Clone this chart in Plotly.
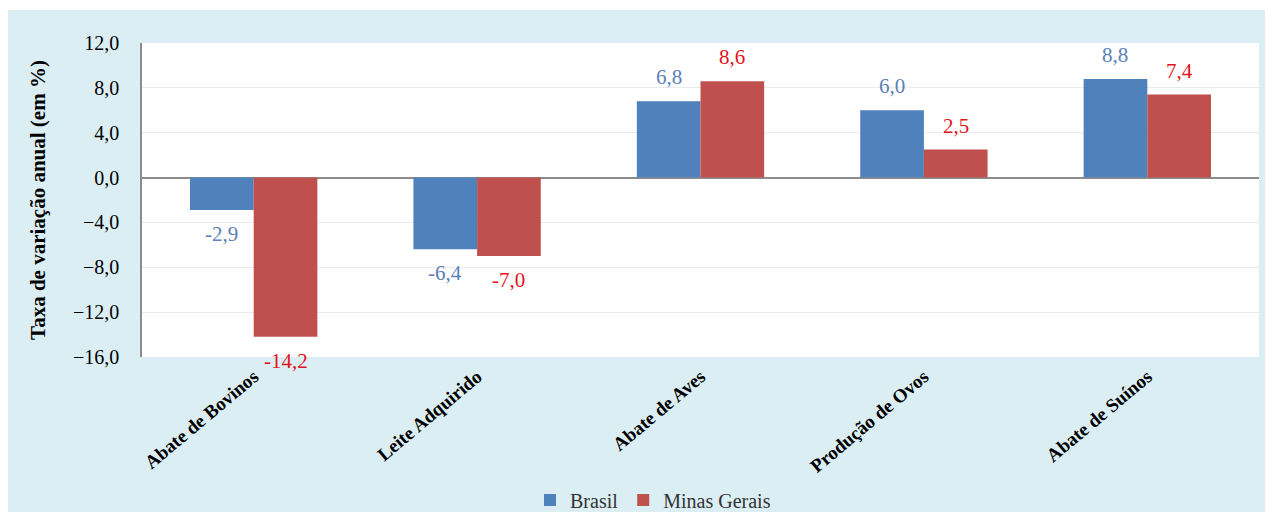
import plotly.graph_objects as go

categories = ["Abate de Bovinos", "Leite Adquirido", "Abate de Aves", "Produção de Ovos", "Abate de Suínos"]
brasil = [-2.9, -6.4, 6.8, 6.0, 8.8]
minas_gerais = [-14.2, -7.0, 8.6, 2.5, 7.4]
y_ticks = [-16, -12, -8, -4, 0, 4, 8, 12]

SERIF = "Liberation Serif"
BG_BLUE = "#DBEEF3"
BAR_GAP = 0.43
LABEL_OFFSET = 24  # px between bar end and value label centre

# plot area geometry in pixels (used to place the outer panel in paper units)
W, H = 1273, 516
ML, MR, MT, MB = 142, 14, 43, 159
PW, PH = W - ML - MR, H - MT - MB
BAR_PX = PW / len(categories) * (1 - BAR_GAP) / 2


def fmt(v):
    return f"{v:.1f}".replace(".", ",")


series = [
    ("Brasil", brasil, "#4F81BD", "#5B80BA"),
    ("Minas Gerais", minas_gerais, "#C0504D", "#E3141C"),
]

fig = go.Figure()
for i, (name, vals, bar_color, label_color) in enumerate(series):
    fig.add_trace(go.Bar(
        name=name, x=categories, y=vals,
        marker=dict(color=bar_color, line=dict(width=0)),
    ))
    # value labels above positive bars and below negative ones
    for cat, v in zip(categories, vals):
        fig.add_annotation(
            x=cat, y=v, xref="x", yref="y", text=fmt(v), showarrow=False,
            xshift=(i - 0.5) * BAR_PX, yshift=LABEL_OFFSET if v > 0 else -LABEL_OFFSET,
            yanchor="middle", font=dict(family=SERIF, size=21, color=label_color),
        )

# light blue panel behind the whole chart, white plotting area on top of it
fig.add_shape(type="rect", xref="paper", yref="paper", layer="below",
              x0=-(ML - 8) / PW, x1=1 + (MR - 8) / PW,
              y0=-(MB - 4) / PH, y1=1 + (MT - 10) / PH,
              fillcolor=BG_BLUE, line=dict(width=0))
fig.add_shape(type="rect", xref="paper", yref="paper", layer="below",
              x0=0, x1=1, y0=0, y1=1,
              fillcolor="white", line=dict(width=0))

fig.update_layout(
    width=W, height=H,
    margin=dict(l=ML, r=MR, t=MT, b=MB, autoexpand=False),
    paper_bgcolor="white", plot_bgcolor="white",
    barmode="group", bargap=BAR_GAP, bargroupgap=0,
    separators=",.",
    font=dict(family=SERIF, size=20, color="black"),
    legend=dict(orientation="h", x=(653 - ML) / PW, xanchor="center",
                y=-(500 - (H - MB)) / PH, yanchor="middle",
                font=dict(family=SERIF, size=20, color="#333333"),
                bgcolor="rgba(0,0,0,0)"),
    showlegend=True,
)
fig.update_xaxes(
    tickangle=-40, tickfont=dict(family=SERIF, size=19, color="black", weight="bold"),
    showline=False, showgrid=False, ticks="", zeroline=False,
    ticklabelstandoff=4, automargin=False,
)
fig.update_yaxes(
    range=[-16, 12], tickvals=y_ticks, tickformat=".1f",
    tickfont=dict(family=SERIF, size=20, color="black"),
    showgrid=True, gridcolor="#EBEBEB", gridwidth=1,
    zeroline=True, zerolinecolor="#8C8C8C", zerolinewidth=1.5,
    showline=True, linecolor="#8C8C8C", linewidth=1.5,
    ticks="", ticklabelstandoff=17, automargin=False,
    title=dict(text="Taxa de variação anual (em %)",
               font=dict(family=SERIF, size=21, color="black", weight="bold"),
               standoff=22),
)

fig.write_html("out.html")
